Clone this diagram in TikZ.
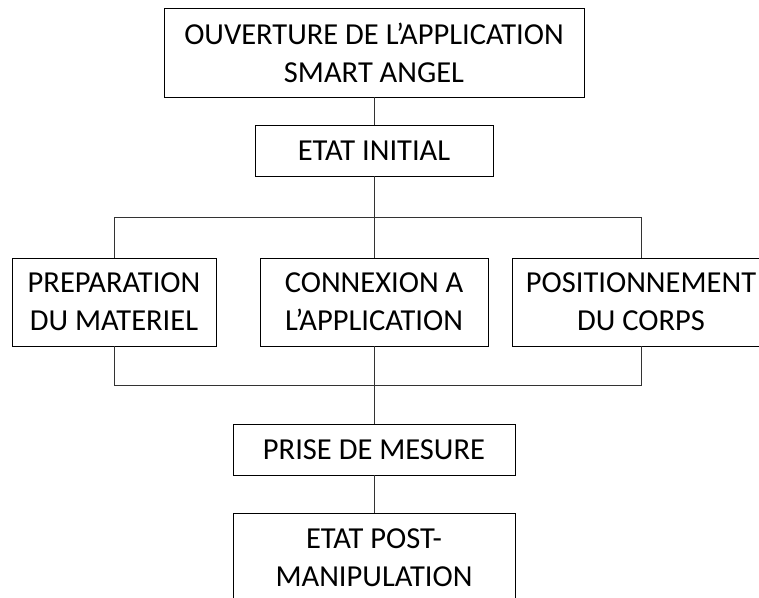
\documentclass[tikz,border=0pt]{standalone}
\usepackage{fontspec}
\setmainfont{Carlito}
\begin{document}
\begin{tikzpicture}[x=1pt,y=-1pt,
  box/.style={draw=black,line width=0.9pt,rectangle,inner sep=0pt,align=center,
    font=\fontsize{30.5}{38}\selectfont,text=black},
  link/.style={draw=black!80,line width=0.9pt}]
\useasboundingbox (0,0) rectangle (759,597);
\clip (0,0) rectangle (759,597);
\node[box,minimum width=420pt,minimum height=89pt] (top) at (374,52.5) {OUVERTURE DE L’APPLICATION\\SMART ANGEL};
\node[box,minimum width=238pt,minimum height=51pt] (init) at (374,150.5) {ETAT INITIAL};
\node[box,minimum width=204pt,minimum height=88pt] (prep) at (114,302) {PREPARATION\\DU MATERIEL};
\node[box,minimum width=228pt,minimum height=88pt] (conn) at (374,302) {CONNEXION A\\L’APPLICATION};
\node[box,minimum width=258pt,minimum height=88pt] (pos) at (641,302) {POSITIONNEMENT\\DU CORPS};
\node[box,minimum width=282pt,minimum height=51pt] (prise) at (374,449.5) {PRISE DE MESURE};
\node[box,minimum width=282pt,minimum height=90pt] (post) at (374,558) {ETAT POST-\\MANIPULATION};
\coordinate (ul) at (114,217);
\coordinate (ur) at (641,217);
\coordinate (ll) at (114,385);
\coordinate (lr) at (641,385);
\draw[link] (top.south) -- (init.north);
\draw[link] (init.south) -- (conn.north);
\draw[link] (prep.north) -- (ul) -- (ur) -- (pos.north);
\draw[link] (prep.south) -- (ll) -- (lr) -- (pos.south);
\draw[link] (conn.south) -- (prise.north);
\draw[link] (prise.south) -- (post.north);
\end{tikzpicture}
\end{document}
